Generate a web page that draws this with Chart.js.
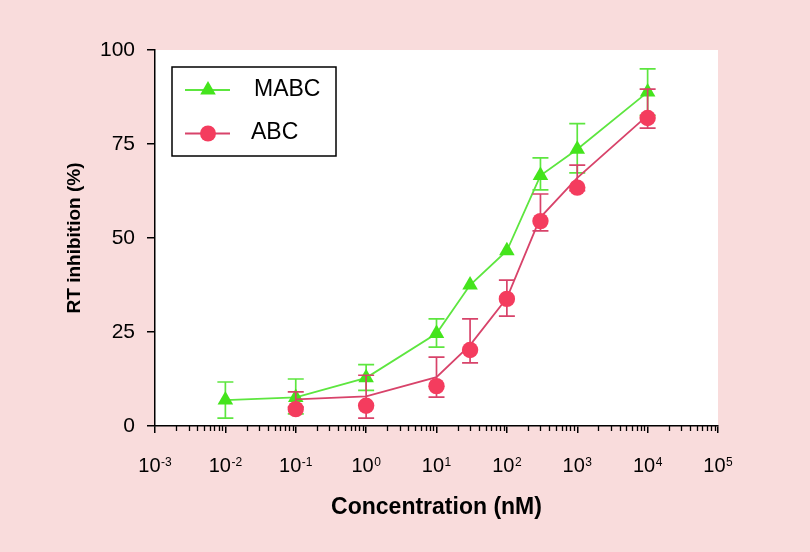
<!DOCTYPE html>
<html><head><meta charset="utf-8">
<script src="https://cdn.jsdelivr.net/npm/chart.js@4/dist/chart.umd.min.js"></script>
<style>html,body{margin:0;padding:0;background:#f9dcdc;}#wrap{width:810px;height:552px;position:relative}</style>
</head><body><div id="wrap"><canvas id="c" width="810" height="552"></canvas></div>
<script>
// ---- data ----
const mabcConc = [0.01, 0.1, 1, 10, 30, 100, 300, 1000, 10000];
const mabc = [6.9, 7.6, 12.8, 24.6, 37.5, 46.6, 66.6, 73.6, 88.8];
const mabcErrLow = [2.1, 3.2, 9.5, 21.0, null, null, 62.8, 67.3, 82.6];
const mabcErrHigh = [11.7, 12.5, 16.3, 28.5, null, null, 71.3, 80.4, 95.0];

const abcConc = [0.1, 1, 10, 30, 100, 300, 1000, 10000];
const abcLine = [7.1, 7.9, 13.0, 21.5, 34.0, 55.5, 66.0, 82.6];
const abcMarkers = [4.5, 5.4, 10.6, 20.2, 33.8, 54.5, 63.4, 81.9];
const abcErrLow = [5.0, 2.1, 7.7, 16.8, 29.2, 51.9, 62.6, 79.2];
const abcErrHigh = [9.1, 13.5, 18.3, 28.5, 38.8, 61.7, 69.4, 89.6];

const yTicks = [0, 25, 50, 75, 100];
const xExponents = [-3, -2, -1, 0, 1, 2, 3, 4, 5];
const xTickBase = '10';
const seriesNames = ['MABC', 'ABC'];

// ---- styles ----
const GREEN = '#44e41c';
const GREEN_LINE = '#5de63f';
const RED = '#f43c5e';
const RED_LINE = '#d8436a';
const FONT = '"Liberation Sans", Arial, Helvetica, sans-serif';

const bgPlugin = {
  id: 'bg',
  beforeDraw(chart){
    const {ctx, chartArea:a} = chart;
    ctx.save();
    ctx.fillStyle = '#f9dcdc';
    ctx.fillRect(0, 0, chart.width, chart.height);
    ctx.fillStyle = '#ffffff';
    ctx.fillRect(a.left, a.top, a.right - a.left, a.bottom - a.top);
    ctx.restore();
  }
};

// minor ticks + superscripted decade labels on the log axis
const logAxisExtras = {
  id: 'logAxisExtras',
  afterDraw(chart){
    const x = chart.scales.x, ctx = chart.ctx, y0 = chart.chartArea.bottom;
    ctx.save();
    ctx.strokeStyle = '#000'; ctx.lineWidth = 1.3;
    ctx.beginPath();
    for (let i = 0; i < xExponents.length - 1; i++) {
      for (let m = 2; m <= 9; m++) {
        const px = Math.round(x.getPixelForValue(m * Math.pow(10, xExponents[i]))) + 0.5;
        ctx.moveTo(px, y0); ctx.lineTo(px, y0 + 5);
      }
    }
    ctx.stroke();
    ctx.fillStyle = '#000';
    ctx.textBaseline = 'alphabetic'; ctx.textAlign = 'left';
    xExponents.forEach(e => {
      const px = x.getPixelForValue(Math.pow(10, e));
      const ex = String(e);
      ctx.font = '20px ' + FONT;
      const w1 = ctx.measureText(xTickBase).width;
      ctx.font = '12px ' + FONT;
      const w2 = ctx.measureText(ex).width;
      const start = px - (w1 + w2 + 0.5) / 2;
      ctx.font = '20px ' + FONT;
      ctx.fillText(xTickBase, start, y0 + 46);
      ctx.font = '12px ' + FONT;
      ctx.fillText(ex, start + w1 + 0.5, y0 + 40);
    });
    ctx.restore();
  }
};

const errorBars = {
  id: 'errorBars',
  beforeDatasetDraw(chart, args){
    const ds = chart.data.datasets[args.index];
    if (!ds.errLow) return;
    const x = chart.scales.x, y = chart.scales.y, ctx = chart.ctx;
    ctx.save();
    ctx.strokeStyle = ds.errColor; ctx.lineWidth = 1.7;
    ds.data.forEach((p, i) => {
      const lo = ds.errLow[i], hi = ds.errHigh[i];
      if (lo == null) return;
      const px = x.getPixelForValue(p.x), y1 = y.getPixelForValue(lo), y2 = y.getPixelForValue(hi);
      ctx.beginPath();
      ctx.moveTo(px, y1); ctx.lineTo(px, y2);
      ctx.moveTo(px - 8, y1); ctx.lineTo(px + 8, y1);
      ctx.moveTo(px - 8, y2); ctx.lineTo(px + 8, y2);
      ctx.stroke();
    });
    ctx.restore();
  }
};

const legendBox = {
  id: 'legendBox',
  afterDraw(chart){
    const ctx = chart.ctx;
    ctx.save();
    ctx.strokeStyle = '#000'; ctx.lineWidth = 1.5;
    ctx.strokeRect(172, 67, 164, 89);
    const items = [
      {label: seriesNames[0], line: GREEN_LINE, fill: GREEN, style: 'triangle', r: 9, y: 90, tx: 254, ty: 90},
      {label: seriesNames[1], line: RED_LINE, fill: RED, style: 'circle', r: 8, y: 133.5, tx: 251, ty: 133}
    ];
    items.forEach(it => {
      ctx.strokeStyle = it.line; ctx.lineWidth = 1.8;
      ctx.beginPath(); ctx.moveTo(185, it.y); ctx.lineTo(230, it.y); ctx.stroke();
      ctx.fillStyle = it.fill;
      Chart.helpers.drawPoint(ctx, {pointStyle: it.style, radius: it.r, borderWidth: 0, rotation: 0}, 208, it.y);
      ctx.fillStyle = '#000';
      ctx.font = '23px ' + FONT;
      ctx.textBaseline = 'middle'; ctx.textAlign = 'left';
      ctx.fillText(it.label, it.tx, it.ty);
    });
    ctx.restore();
  }
};

new Chart(document.getElementById('c'), {
  type: 'line',
  data: {
    datasets: [
      {
        label: seriesNames[0],
        data: mabcConc.map((c, i) => ({x: c, y: mabc[i]})),
        errLow: mabcErrLow, errHigh: mabcErrHigh, errColor: GREEN_LINE,
        borderColor: GREEN_LINE, borderWidth: 1.8, backgroundColor: GREEN,
        pointStyle: 'triangle', pointRadius: 9, pointBorderWidth: 0, pointBackgroundColor: GREEN,
        tension: 0, order: 3
      },
      {
        label: seriesNames[1] + ' line',
        data: abcConc.map((c, i) => ({x: c, y: abcLine[i]})),
        borderColor: RED_LINE, borderWidth: 1.8, pointRadius: 0, tension: 0, order: 2
      },
      {
        label: seriesNames[1],
        data: abcConc.map((c, i) => ({x: c, y: abcMarkers[i]})),
        errLow: abcErrLow, errHigh: abcErrHigh, errColor: RED_LINE,
        showLine: false, pointStyle: 'circle', pointRadius: 8.2, pointBorderWidth: 0,
        pointBackgroundColor: RED, backgroundColor: RED, order: 1
      }
    ]
  },
  options: {
    responsive: false, animation: false, devicePixelRatio: 1,
    layout: {padding: {left: 0, top: 50, right: 92, bottom: 0}},
    plugins: {legend: {display: false}, tooltip: {enabled: false}},
    scales: {
      x: {
        type: 'logarithmic', min: 1e-3, max: 1e5,
        afterBuildTicks(s){ s.ticks = xExponents.map(e => ({value: Math.pow(10, e)})); },
        afterFit(s){ s.height = 126; },
        ticks: {display: false},
        grid: {drawOnChartArea: false, tickLength: 7, color: '#000', lineWidth: 1.5},
        border: {color: '#000', width: 1.5},
        title: {display: true, text: 'Concentration (nM)', color: '#000',
          font: {family: FONT, size: 23, weight: 'bold'}, padding: {top: 0, bottom: 31}}
      },
      y: {
        min: 0, max: 100,
        afterBuildTicks(s){ s.ticks = yTicks.map(v => ({value: v})); },
        afterFit(s){ s.width = 155; },
        ticks: {font: {family: FONT, size: 21}, color: '#000', padding: 12},
        grid: {drawOnChartArea: false, tickLength: 8, color: '#000', lineWidth: 1.5},
        border: {color: '#000', width: 1.5},
        title: {display: true, text: 'RT inhibition (%)', color: '#000',
          font: {family: FONT, size: 19, weight: 'bold'}, padding: {top: 63, bottom: 0}}
      }
    }
  },
  plugins: [bgPlugin, errorBars, logAxisExtras, legendBox]
});
</script>
</body></html>
